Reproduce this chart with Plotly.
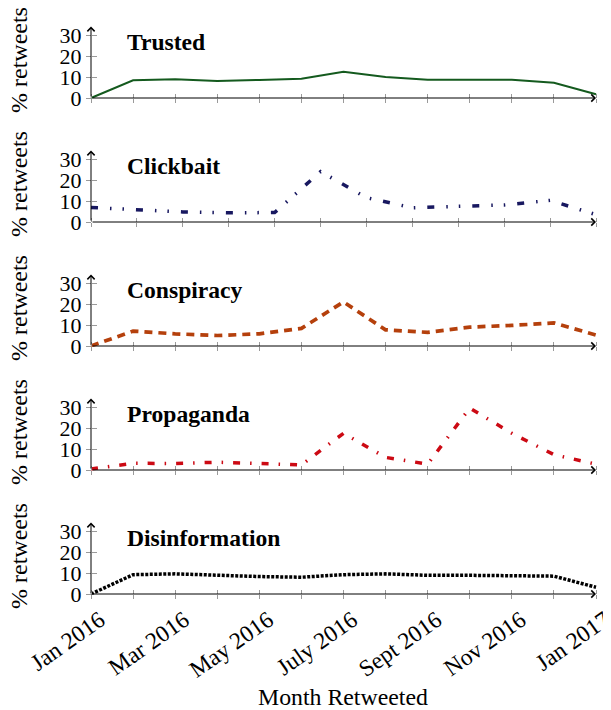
import plotly.graph_objects as go

# ---------------- data ----------------
months_13 = list(range(13))   # Jan 2016 .. Jan 2017
months_12 = list(range(12))   # clickbait series has 12 monthly points

tick_labels = ["Jan 2016", "", "Mar 2016", "", "May 2016", "", "July 2016", "",
               "Sept 2016", "", "Nov 2016", "", "Jan 2017"]

trusted = [0, 8.4, 8.9, 8.1, 8.6, 9.2, 12.5, 10.0, 8.7, 8.7, 8.7, 7.3, 1.8]
clickbait = [6.9, 5.8, 4.8, 4.4, 4.5, 24.0, 11.6, 6.8, 7.3, 8.1, 10.3, 3.5]
conspiracy = [0, 7.1, 5.8, 5.0, 5.8, 8.4, 21.0, 7.7, 6.5, 9.0, 9.8, 11.0, 5.2]
propaganda = [0.5, 3.2, 3.1, 3.7, 3.1, 2.4, 17.5, 6.0, 2.8, 29.5, 17.5, 7.3, 2.8]
disinformation = [0, 9.2, 9.6, 8.8, 8.3, 8.0, 9.2, 9.6, 8.9, 8.9, 8.6, 8.5, 3.2]

names = ["Trusted", "Clickbait", "Conspiracy", "Propaganda", "Disinformation"]
series = [trusted, clickbait, conspiracy, propaganda, disinformation]
xs = [months_13, months_12, months_13, months_13, months_13]
y_ticks = [0, 10, 20, 30]

# ---------------- styles ----------------
styles = [
    dict(color="#145a1e", width=2, dash="solid"),
    dict(color="#181860", width=3.5, dash="7px,12px,1.5px,11px,1.5px,12px"),
    dict(color="#b5400c", width=3.7, dash="8px,6px"),
    dict(color="#cc0a14", width=3.5, dash="7px,10px,1.5px,10px"),
    dict(color="#000000", width=3.5, dash="3px,1.5px"),
]

OFF = 8  # page body margin of the html page
W, H = 611 - OFF, 710 - OFF
X0P, X1P = 91 - OFF, 596 - OFF
Y0P = [v - OFF for v in (98, 222, 346, 470, 594)]
PXU = 2.1
YMIN, YMAX = -0.4, 34.0
FONT = "Liberation Serif"
TICKGRAY = "#9a9a9a"

fig = go.Figure()
layout = dict(
    width=W, height=H, margin=dict(l=0, r=0, t=0, b=0, autoexpand=False),
    paper_bgcolor="white", plot_bgcolor="white", showlegend=False,
    font=dict(family=FONT, size=22, color="black"),
)
annotations = []

for k in range(5):
    i = k + 1
    n = len(xs[k]) - 1
    pxu_x = (X1P - X0P) / n
    pad = 2.1 / pxu_x
    xdom = [(X0P - 2.1) / W, (X1P + 2.1) / W]
    ybot = Y0P[k] - YMIN * PXU
    ytop = Y0P[k] - YMAX * PXU
    ydom = [1 - ybot / H, 1 - ytop / H]
    xpos = X0P / W
    ypos = 1 - Y0P[k] / H

    fig.add_trace(go.Scatter(x=xs[k], y=series[k], mode="lines",
                             line=styles[k], xaxis=f"x{i}", yaxis=f"y{i}",
                             hoverinfo="skip"))
    # invisible helpers for overlay axes
    fig.add_trace(go.Scatter(x=xs[k], y=series[k], mode="lines", opacity=0,
                             xaxis=f"x{i+5}", yaxis=f"y{i+5}", hoverinfo="skip"))

    bottom = (k == 4)
    layout[f"xaxis{i}"] = dict(
        domain=xdom, range=[-pad, n + pad], anchor="free", position=ypos,
        automargin=False,
        showline=False, zeroline=False, showgrid=False,
        tickmode="array", tickvals=xs[k],
        ticktext=tick_labels if bottom else [""] * len(xs[k]),
        showticklabels=bottom, tickangle=-35, ticklabelshift=9,
        ticklabelstandoff=7, ticklabeloverflow="allow",
        ticks="inside", ticklen=4, tickwidth=1, tickcolor=TICKGRAY,
        tickfont=dict(family=FONT, size=23.5, color="black"),
    )
    layout[f"xaxis{i+5}"] = dict(
        overlaying=f"x{i}", range=[-pad, n + pad], anchor="free", position=ypos,
        automargin=False,
        showline=False, zeroline=False, showgrid=False,
        tickmode="array", tickvals=xs[k], showticklabels=False,
        ticks="outside", ticklen=4, tickwidth=1, tickcolor=TICKGRAY,
    )
    layout[f"yaxis{i}"] = dict(
        domain=ydom, range=[YMIN, YMAX], anchor="free", position=xpos,
        automargin=False,
        showline=False, zeroline=False, showgrid=False,
        tickmode="array", tickvals=y_ticks,
        ticks="outside", ticklen=5, tickwidth=1, tickcolor=TICKGRAY,
        tickfont=dict(family=FONT, size=22, color="black"),
    )
    layout[f"yaxis{i+5}"] = dict(
        overlaying=f"y{i}", range=[YMIN, YMAX], anchor="free", position=xpos,
        automargin=False,
        showline=False, zeroline=False, showgrid=False,
        tickmode="array", tickvals=y_ticks, showticklabels=False,
        ticks="inside", ticklen=5, tickwidth=1, tickcolor=TICKGRAY,
    )

    # axis lines with arrow heads
    annotations.append(dict(x=n, y=0, ax=0, ay=0, xref=f"x{i}", yref=f"y{i}",
                            axref=f"x{i}", ayref=f"y{i}", text="", showarrow=True,
                            arrowhead=4, arrowsize=1.4, arrowwidth=1, arrowcolor="black"))
    annotations.append(dict(x=0, y=YMAX, ax=0, ay=0, xref=f"x{i}", yref=f"y{i}",
                            axref=f"x{i}", ayref=f"y{i}", text="", showarrow=True,
                            arrowhead=4, arrowsize=1.4, arrowwidth=1, arrowcolor="black"))
    # panel title
    annotations.append(dict(x=(125 - OFF - X0P) / pxu_x, y=26.7, xref=f"x{i}", yref=f"y{i}",
                            text=f"<b>{names[k]}</b>", showarrow=False,
                            xanchor="left", yanchor="middle",
                            font=dict(family=FONT, size=23.6, color="black")))
    # y label
    annotations.append(dict(x=(19 - OFF) / W, y=1 - (Y0P[k] - 38) / H, xref="paper", yref="paper",
                            text="% retweets", textangle=-90, showarrow=False,
                            xanchor="center", yanchor="middle",
                            font=dict(family=FONT, size=24, color="black")))

annotations.append(dict(x=(343 - OFF) / W, y=1 - (697 - OFF) / H, xref="paper", yref="paper",
                        text="Month Retweeted", showarrow=False,
                        xanchor="center", yanchor="middle",
                        font=dict(family=FONT, size=23.8, color="black")))

layout["annotations"] = annotations
fig.update_layout(**layout)
fig.write_html("out.html")
